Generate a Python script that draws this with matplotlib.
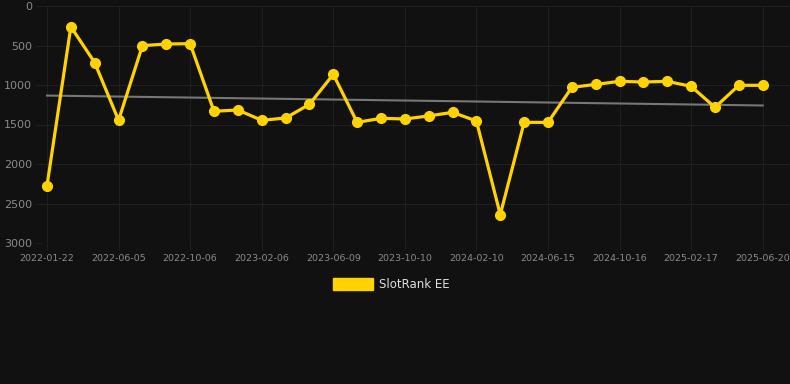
import numpy as np
import matplotlib
matplotlib.use('Agg')
import matplotlib.pyplot as plt
from matplotlib.patches import Rectangle

# --- DATA ---
dates = ['2022-01-22', '', '', '2022-06-05', '', '', '2022-10-06', '', '', '2023-02-06',
         '', '', '2023-06-09', '', '', '2023-10-10', '', '', '2024-02-10', '', '',
         '2024-06-15', '', '', '2024-10-16', '', '', '2025-02-17', '', '', '2025-06-20']
rank = [2275, 262, 717, 1447, 502, 481, 477, 1333, 1316, 1447, 1418, 1245, 865, 1473, 1422,
        1430, 1392, 1346, 1456, 2641, 1473, 1473, 1030, 992, 954, 962, 954, 1017, 1283, 1004, 1004]
series_name = 'SlotRank EE'

BG = '#111111'
GRID = '#1f1f1f'
YELLOW = '#FFD300'

x = np.arange(len(rank))

fig = plt.figure(figsize=(7.9, 3.84), dpi=100, facecolor=BG)
ax = fig.add_axes([42/790, 1 - 243/384, (790 - 42)/790, (243 - 6)/384])
ax.set_facecolor(BG)

# trend line (least squares)
k, b = np.polyfit(x, rank, 1)
ax.plot(x, k * x + b, color='#777777', linewidth=1.5, zorder=2)

ax.plot(x, rank, color=YELLOW, linewidth=2.3, marker='o', markersize=7,
        markerfacecolor=YELLOW, markeredgecolor=YELLOW, zorder=3, clip_on=False)

px = 23.857
ax.set_xlim(-5 / px, (790 - 47) / px)
ax.set_ylim(3000, 0)
ax.set_yticks([0, 500, 1000, 1500, 2000, 2500, 3000])
tick_idx = [i for i, d in enumerate(dates) if d]
ax.set_xticks(tick_idx)
ax.set_xticklabels([dates[i] for i in tick_idx])

ax.grid(True, color=GRID, linewidth=0.8)
for s in ax.spines.values():
    s.set_visible(False)
ax.tick_params(axis='y', colors=GRID, labelcolor='#8a8a8a', labelsize=8, length=4, pad=3)
ax.tick_params(axis='x', colors=GRID, labelcolor='#8a8a8a', labelsize=6.8, length=5, pad=3)

# legend
fig.patches.append(Rectangle((333/790, 1 - 290/384), 40/790, 12/384,
                             transform=fig.transFigure, color=YELLOW))
fig.text(379/790, 1 - 284/384, series_name, color='#dddddd', fontsize=8.5,
         va='center', ha='left')

fig.savefig('out.png', dpi=100, facecolor=BG)
